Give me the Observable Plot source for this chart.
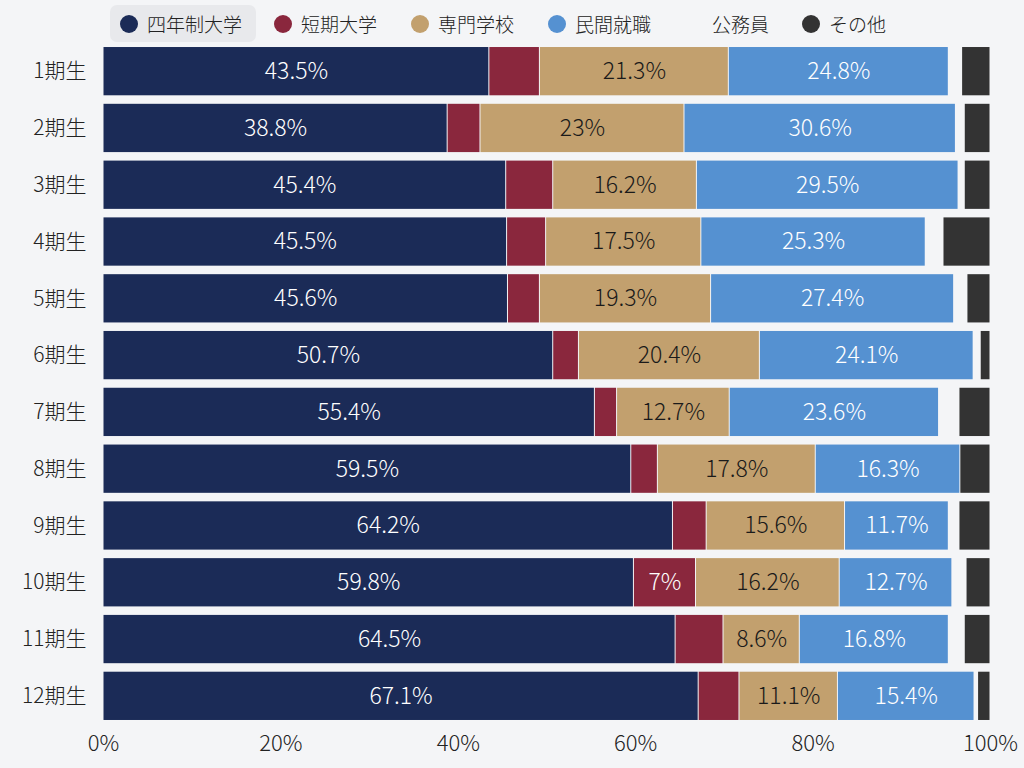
<!DOCTYPE html>
<html>
<head>
<meta charset="utf-8">
<script src="https://cdn.jsdelivr.net/npm/d3@7"></script>
<script src="https://cdn.jsdelivr.net/npm/@observablehq/plot@0.6"></script>
<style>
  html, body { margin: 0; padding: 0; background: #f4f5f7; }
  body { width: 1024px; height: 768px; overflow: hidden; font-family: "Noto Sans CJK JP", "Noto Sans", sans-serif; }
  #legend { position: relative; height: 38px; }
  .item { position: absolute; top: 5px; height: 37px; display: flex; align-items: center; font-size: 19px; color: #222; box-sizing: border-box; padding: 0 14px 0 10px; border-radius: 7px; white-space: nowrap; font-weight: 300; }
  .item.active { background: #e8e9ec; }
  .dot { width: 18px; height: 18px; border-radius: 50%; margin-right: 9px; display: inline-block; }
  svg { display: block; }
</style>
</head>
<body>
<div id="legend"></div>
<div id="chart"></div>
<script>
const cohorts = ["1期生","2期生","3期生","4期生","5期生","6期生","7期生","8期生","9期生","10期生","11期生","12期生"];
const categories = ["四年制大学","短期大学","専門学校","民間就職","公務員","その他"];
const colors = ["#1b2b57","#8a273d","#c2a06e","#5591d1","transparent","#333333"];
const university = [43.5, 38.8, 45.4, 45.5, 45.6, 50.7, 55.4, 59.5, 64.2, 59.8, 64.5, 67.1];
const juniorCollege = [5.7, 3.7, 5.3, 4.4, 3.6, 2.9, 2.5, 3.0, 3.8, 7, 5.4, 4.6];
const vocational = [21.3, 23, 16.2, 17.5, 19.3, 20.4, 12.7, 17.8, 15.6, 16.2, 8.6, 11.1];
const privateJob = [24.8, 30.6, 29.5, 25.3, 27.4, 24.1, 23.6, 16.3, 11.7, 12.7, 16.8, 15.4];
const publicServant = [1.5, 1.0, 0.7, 2.0, 1.5, 0.8, 2.3, 0, 1.2, 1.6, 1.8, 0.4];
const other = [3.2, 2.9, 2.9, 5.3, 2.6, 1.1, 3.5, 3.4, 3.5, 2.7, 2.9, 1.4];
const xTicks = [0, 20, 40, 60, 80, 100];

const series = [university, juniorCollege, vocational, privateJob, publicServant, other];
const data = [];
cohorts.forEach((c, i) => {
  categories.forEach((cat, j) => data.push({cohort: c, cat, v: series[j][i]}));
});

// legend
const legend = document.getElementById("legend");
const lefts = [110, 264, 401, 538, 675, 792];
categories.forEach((cat, j) => {
  const it = document.createElement("div");
  it.className = "item" + (j === 0 ? " active" : "");
  it.style.left = lefts[j] + "px";
  const dot = document.createElement("span");
  dot.className = "dot";
  dot.style.background = colors[j];
  it.appendChild(dot);
  it.appendChild(document.createTextNode(cat));
  legend.appendChild(it);
});

const showLabel = d => d.v >= 6 && d.cat !== "公務員";
const fmt = v => v + "%";

const plot = Plot.plot({
  width: 1024,
  height: 730,
  marginLeft: 103,
  marginRight: 34,
  marginTop: 0.5,
  marginBottom: 39.5,
  style: {background: "#f4f5f7", fontFamily: "'Noto Sans CJK JP', 'Noto Sans', sans-serif", color: "#222", fontWeight: 300},
  x: {domain: [0, 100], ticks: xTicks, tickFormat: d => d + "%", label: null},
  y: {domain: cohorts, padding: 0.15, round: false, label: null},
  color: {domain: categories, range: colors},
  marks: [
    Plot.barX(data, Plot.stackX({x: "v", y: "cohort", z: "cat", fill: "cat", insetLeft: 0.5, insetRight: 0.5})),
    Plot.text(data, Plot.stackX({x: "v", y: "cohort", z: "cat",
      text: d => (showLabel(d) && d.cat !== "専門学校") ? fmt(d.v) : "",
      fill: "white", fontSize: 23, fontWeight: 300})),
    Plot.text(data, Plot.stackX({x: "v", y: "cohort", z: "cat",
      text: d => (showLabel(d) && d.cat === "専門学校") ? fmt(d.v) : "",
      fill: "#1a1a1a", fontSize: 23, fontWeight: 300})),
    Plot.axisX({ticks: xTicks, tickFormat: d => d + "%", tickSize: 0, tickPadding: 6, fontSize: 22, fontWeight: 300, label: null}),
    Plot.axisY({tickSize: 0, tickPadding: 17, fontSize: 21, fontWeight: 300, label: null})
  ]
});
document.getElementById("chart").appendChild(plot);
</script>
</body>
</html>
